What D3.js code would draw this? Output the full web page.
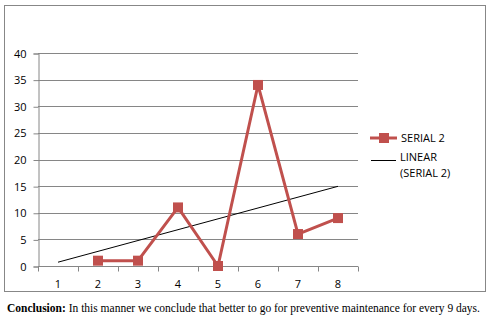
<!DOCTYPE html>
<html>
<head>
<meta charset="utf-8">
<script src="https://cdn.jsdelivr.net/npm/d3@7"></script>
<style>
  body { margin: 0; background: #fff; }
  svg { display: block; }
</style>
</head>
<body>
<svg id="chart"></svg>
<script>
// chart data
const days = ["1", "2", "3", "4", "5", "6", "7", "8"];
const serial2 = [null, 1, 1, 11, 0, 34, 6, 9];
const yTicks = [0, 5, 10, 15, 20, 25, 30, 35, 40];
const seriesName = "SERIAL 2";
const trendName = ["LINEAR", "(SERIAL 2)"];

const W = 494, H = 315;
const margin = { top: 53, left: 38, right: 136, bottom: 49 };
const red = "#C0504D";
const grid = "#868686";
const labelFont = "'Open Sans', 'Noto Sans', sans-serif";

const svg = d3.select("#chart").attr("width", W).attr("height", H);

// outer chart box
svg.append("rect")
    .attr("x", 4.5).attr("y", 5.5)
    .attr("width", 481).attr("height", 286)
    .attr("fill", "#fff")
    .attr("stroke", "#878787")
    .attr("stroke-width", 1);

const xScale = d3.scaleBand()
    .domain(days)
    .range([margin.left, W - margin.right]);
const yScale = d3.scaleLinear()
    .domain([0, 40])
    .range([H - margin.bottom, margin.top]);

// gridlines
svg.append("g")
    .selectAll("line")
    .data(yTicks)
    .join("line")
    .attr("x1", margin.left).attr("x2", W - margin.right)
    .attr("y1", d => Math.round(yScale(d)) + 0.5)
    .attr("y2", d => Math.round(yScale(d)) + 0.5)
    .attr("stroke", grid);

// y axis
const yAxis = svg.append("g")
    .attr("transform", `translate(${margin.left + 0.5}, 0.5)`)
    .call(d3.axisLeft(yScale).tickValues(yTicks).tickSize(5).tickPadding(7));
yAxis.select(".domain").attr("stroke", grid);
yAxis.selectAll(".tick line").attr("stroke", grid);
yAxis.selectAll("text")
    .attr("font-family", labelFont)
    .attr("font-size", 11)
    .attr("fill", "#000");

// x axis: ticks on the category boundaries, labels in the middle
const xBase = Math.round(yScale(0)) + 0.5;
const xg = svg.append("g");
xg.append("line")
    .attr("x1", margin.left).attr("x2", W - margin.right)
    .attr("y1", xBase).attr("y2", xBase)
    .attr("stroke", grid);
xg.selectAll("line.tk")
    .data(days.concat(["end"]))
    .join("line")
    .attr("class", "tk")
    .attr("x1", (d, i) => Math.round(margin.left + i * xScale.bandwidth()) + 0.5)
    .attr("x2", (d, i) => Math.round(margin.left + i * xScale.bandwidth()) + 0.5)
    .attr("y1", xBase).attr("y2", xBase + 5)
    .attr("stroke", grid);
xg.selectAll("text")
    .data(days)
    .join("text")
    .attr("x", d => xScale(d) + xScale.bandwidth() / 2)
    .attr("y", xBase + 21)
    .attr("text-anchor", "middle")
    .attr("font-family", labelFont)
    .attr("font-size", 11)
    .text(d => d);

const cx = i => xScale(days[i]) + xScale.bandwidth() / 2;

// linear trendline (least squares over the points present)
const pts = serial2.map((v, i) => [i + 1, v]).filter(p => p[1] !== null);
const mx = d3.mean(pts, p => p[0]);
const my = d3.mean(pts, p => p[1]);
const slope = d3.sum(pts, p => (p[0] - mx) * (p[1] - my)) / d3.sum(pts, p => (p[0] - mx) ** 2);
const trend = days.map((d, i) => my + slope * (i + 1 - mx));
svg.append("line")
    .attr("x1", cx(0)).attr("y1", yScale(trend[0]))
    .attr("x2", cx(days.length - 1)).attr("y2", yScale(trend[days.length - 1]))
    .attr("stroke", "#000")
    .attr("stroke-width", 1);

// series line
const line = d3.line()
    .defined(d => d !== null)
    .x((d, i) => cx(i))
    .y(d => yScale(d));
svg.append("path")
    .datum(serial2)
    .attr("d", line)
    .attr("fill", "none")
    .attr("stroke", red)
    .attr("stroke-width", 3)
    .attr("stroke-linejoin", "round");

svg.append("g")
    .selectAll("rect")
    .data(serial2.map((v, i) => ({ v, i })).filter(d => d.v !== null))
    .join("rect")
    .attr("x", d => cx(d.i) - 5)
    .attr("y", d => yScale(d.v) - 5)
    .attr("width", 10).attr("height", 10)
    .attr("fill", red);

// legend
const lg = svg.append("g");
lg.append("line")
    .attr("x1", 370).attr("x2", 397).attr("y1", 138).attr("y2", 138)
    .attr("stroke", red).attr("stroke-width", 3);
lg.append("rect")
    .attr("x", 379).attr("y", 133).attr("width", 10).attr("height", 10)
    .attr("fill", red);
lg.append("text")
    .attr("x", 401).attr("y", 142)
    .attr("font-family", labelFont).attr("font-size", 11)
    .text(seriesName);
lg.append("line")
    .attr("x1", 371).attr("x2", 396).attr("y1", 160.5).attr("y2", 160.5)
    .attr("stroke", "#000");
lg.selectAll("text.tr")
    .data(trendName)
    .join("text")
    .attr("class", "tr")
    .attr("x", 400)
    .attr("y", (d, i) => 161 + i * 16)
    .attr("font-family", labelFont).attr("font-size", 11)
    .text(d => d);

// caption under the box
const cap = svg.append("text")
    .attr("x", 7).attr("y", 312)
    .attr("font-family", "'Liberation Serif', serif")
    .attr("font-size", 11.5);
cap.append("tspan").attr("font-weight", "bold").text("Conclusion:");
cap.append("tspan").text(" In this manner we conclude that better to go for preventive maintenance for every 9 days.");
</script>
</body>
</html>
